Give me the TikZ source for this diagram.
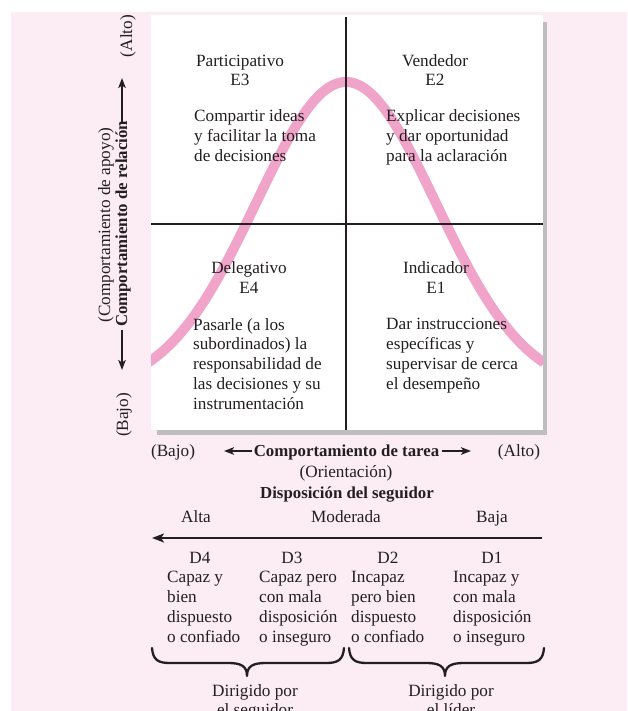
\documentclass[tikz,border=0pt]{standalone}
\usepackage{fontspec}
\setmainfont{Liberation Serif}
\usetikzlibrary{arrows.meta}
\definecolor{bgpink}{RGB}{252,236,243}
\definecolor{curvepink}{RGB}{241,164,202}
\definecolor{ink}{RGB}{35,31,32}
\definecolor{shadow}{RGB}{190,190,190}
\tikzset{
  txt/.style={font=\fontsize{17.2}{19.7}\selectfont, text=ink, inner sep=0pt},
  btxt/.style={txt, font=\fontsize{16.8}{19.7}\selectfont\bfseries},
  blockl/.style={txt, align=left, anchor=base west},
  blockc/.style={txt, align=center, anchor=base},
  quadline/.style={draw=ink, line width=1.8pt},
  axarrow/.style={draw=ink, line width=1.9pt, -{Stealth[length=10pt,width=7.5pt,inset=2.5pt]}},
  bigarrow/.style={draw=ink, line width=2.7pt, -{Stealth[length=12pt,width=9pt,inset=3pt]}},
  bracestyle/.style={draw=ink, line width=2.3pt, line cap=round, line join=round},
  bellcurve/.style={draw=curvepink, line width=10pt}
}
\begin{document}
\begin{tikzpicture}[x=1pt,y=-1pt]
\useasboundingbox (0,0) rectangle (627,711);
% background
\fill[bgpink] (11,12) rectangle (627,711);
% box with shadow
\fill[shadow] (157,22) rectangle (547,435);
\fill[white] (151,15) rectangle (543,430);
% bell curve
\begin{scope}
\clip (151,15) rectangle (543,430);
\draw[bellcurve] plot[domain=-2.2:2.2, samples=120, smooth] ({346+90*\x}, {390-308*exp(-\x*\x/2)});
\end{scope}
% quadrant lines
\coordinate (vtop) at (346,17);
\coordinate (vbot) at (346,430);
\coordinate (hl) at (151,224);
\coordinate (hr) at (543,224);
\draw[quadline] (vtop) -- (vbot);
\draw[quadline] (hl) -- (hr);
% quadrant texts (anchor = baseline of last line)
\node[blockc] (e3) at (240,86) {Participativo\\E3};
\node[blockl] (e3t) at (194,161.4) {Compartir ideas\\y facilitar la toma\\de decisiones};
\node[blockc] (e2) at (435,86) {Vendedor\\E2};
\node[blockl] (e2t) at (386,161.4) {Explicar decisiones\\y dar oportunidad\\para la aclaración};
\node[blockc] (e4) at (249,293) {Delegativo\\E4};
\node[blockl] (e4t) at (193,409) {Pasarle (a los\\subordinados) la\\responsabilidad de\\las decisiones y su\\instrumentación};
\node[blockc] (e1) at (436,293) {Indicador\\E1};
\node[blockl] (e1t) at (386,389) {Dar instrucciones\\específicas y\\supervisar de cerca\\el desempeño};
% left axis
\node[txt, rotate=90, anchor=base] (yalto) at (132,36) {(Alto)};
\node[txt, rotate=90, anchor=base] (ybajo) at (128,415) {(Bajo)};
\node[btxt, rotate=90, anchor=base] (yrel) at (127,224) {Comportamiento de relación};
\node[txt, rotate=90, anchor=base] (yapo) at (110,225) {(Comportamiento de apoyo)};
\coordinate (uptip) at (122,78);
\coordinate (upstart) at (122,122);
\coordinate (dntip) at (122,370);
\coordinate (dnstart) at (122,330);
\draw[axarrow] (upstart) -- (uptip);
\draw[axarrow] (dnstart) -- (dntip);
% bottom axis
\node[txt, anchor=base] (xbajo) at (173,456) {(Bajo)};
\node[btxt, anchor=base] (xtarea) at (346.5,456) {Comportamiento de tarea};
\node[txt, anchor=base] (xalto) at (519,456) {(Alto)};
\coordinate (ltip) at (224,451);
\coordinate (lstart) at (252,451);
\coordinate (rtip) at (471,451);
\coordinate (rstart) at (442,451);
\draw[axarrow] (lstart) -- (ltip);
\draw[axarrow] (rstart) -- (rtip);
\node[txt, anchor=base] (orient) at (346,477) {(Orientación)};
\node[btxt, anchor=base] (dispo) at (347,498) {Disposición del seguidor};
\node[txt, anchor=base] (alta) at (196,522) {Alta};
\node[txt, anchor=base] (moder) at (346,522) {Moderada};
\node[txt, anchor=base] (baja) at (492,522) {Baja};
\coordinate (arrstart) at (542,538);
\coordinate (arrtip) at (152,538);
\draw[bigarrow] (arrstart) -- (arrtip);
% D levels
\node[txt, anchor=base] (d4) at (200,563) {D4};
\node[txt, anchor=base] (d3) at (292,563) {D3};
\node[txt, anchor=base] (d2) at (388,563) {D2};
\node[txt, anchor=base] (d1) at (492,563) {D1};
\node[blockl] (d4t) at (167,642) {Capaz y\\bien\\dispuesto\\o confiado};
\node[blockl] (d3t) at (259,642) {Capaz pero\\con mala\\disposición\\o inseguro};
\node[blockl] (d2t) at (351,642) {Incapaz\\pero bien\\dispuesto\\o confiado};
\node[blockl] (d1t) at (453,642) {Incapaz y\\con mala\\disposición\\o inseguro};
% braces
\draw[bracestyle] (152,648) .. controls (153,660) and (158,663) .. (170,663) -- (228,663)
  .. controls (241,663) and (247,666) .. (247,676)
  .. controls (247,666) and (253,663) .. (266,663) -- (326,663)
  .. controls (338,663) and (343,660) .. (344,648);
\draw[bracestyle] (349,648) .. controls (350,660) and (355,663) .. (367,663) -- (426,663)
  .. controls (439,663) and (445,666) .. (445,676)
  .. controls (445,666) and (451,663) .. (464,663) -- (526,663)
  .. controls (538,663) and (543,660) .. (544,648);
\node[blockc] (dseg) at (255,715.7) {Dirigido por\\el seguidor};
\node[blockc] (dlid) at (451,715.7) {Dirigido por\\el líder};
\end{tikzpicture}
\end{document}
